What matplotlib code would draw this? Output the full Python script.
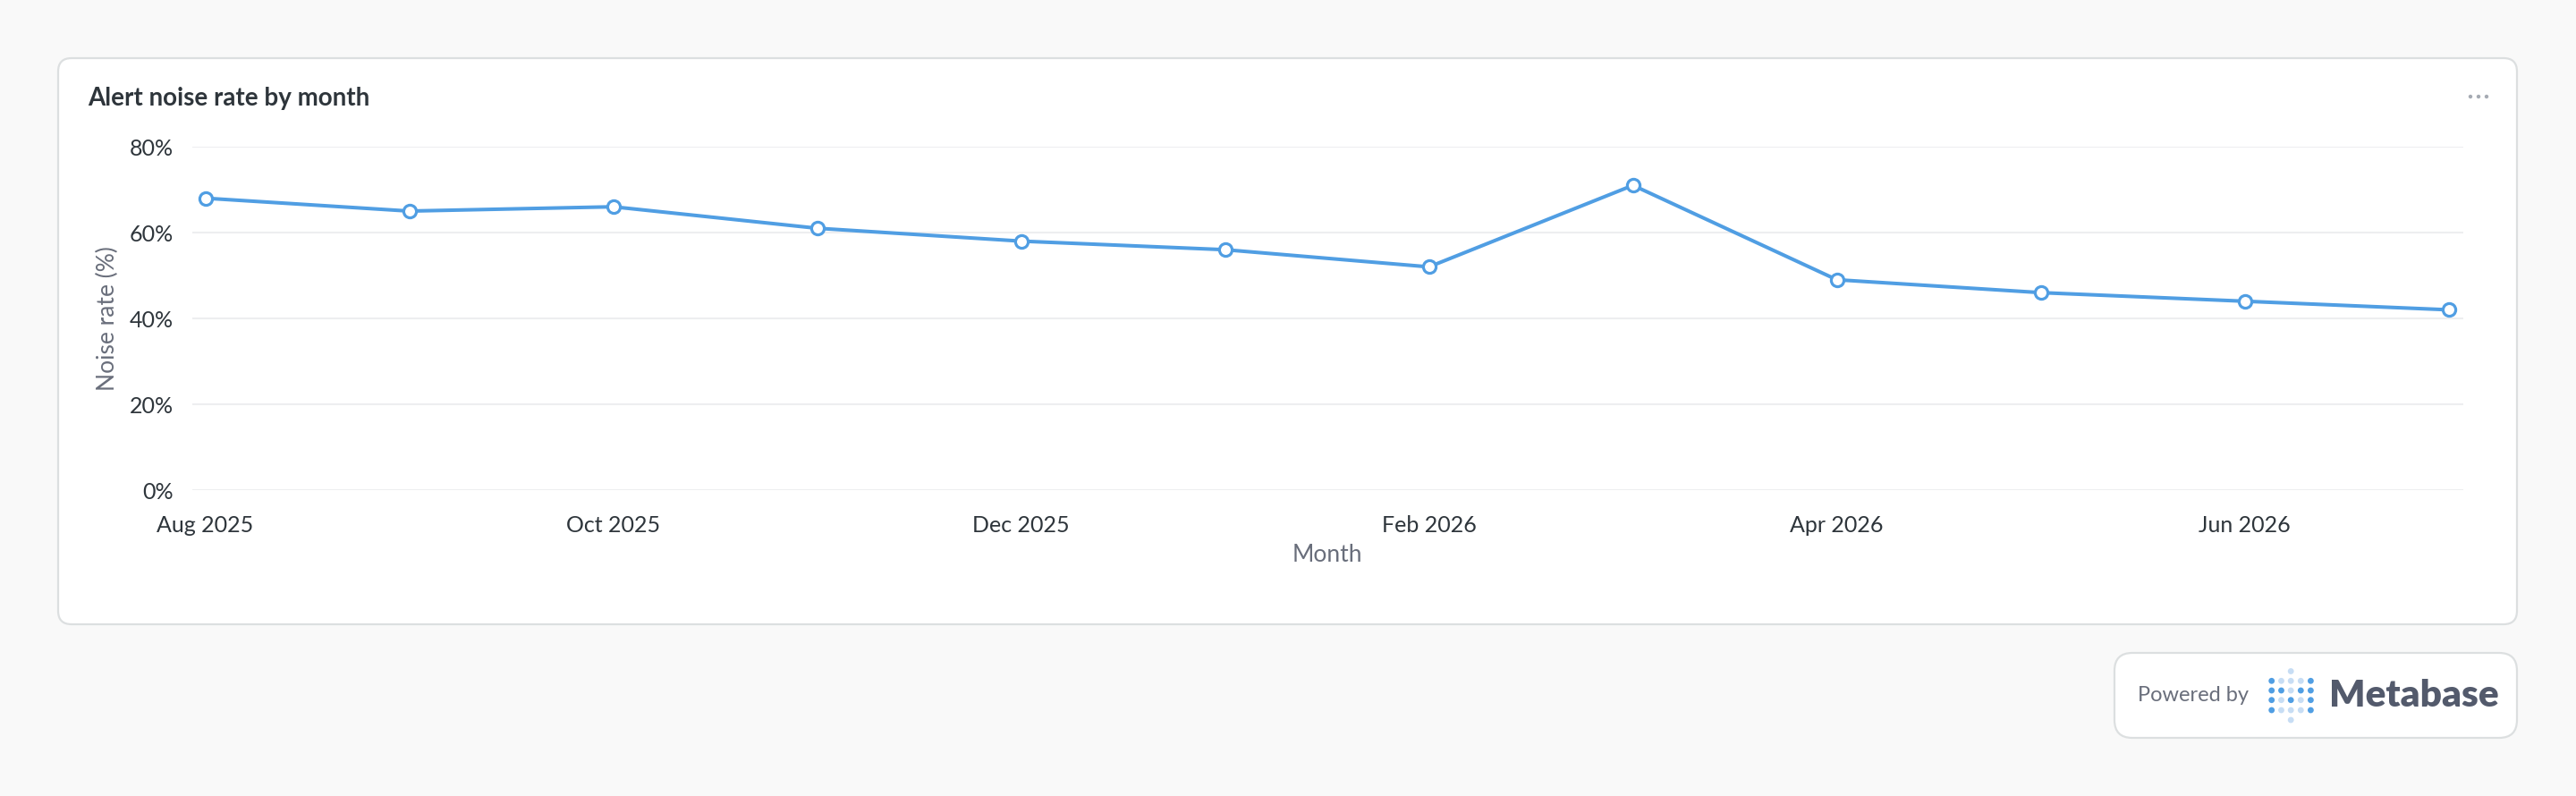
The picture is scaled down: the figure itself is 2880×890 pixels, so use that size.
import matplotlib
matplotlib.use("Agg")
import matplotlib.pyplot as plt
from matplotlib.patches import FancyBboxPatch, Circle
from matplotlib.ticker import FixedLocator, FuncFormatter

# ---- data ----
months = ["Aug 2025", "Sep 2025", "Oct 2025", "Nov 2025", "Dec 2025", "Jan 2026",
          "Feb 2026", "Mar 2026", "Apr 2026", "May 2026", "Jun 2026", "Jul 2026"]
noise_rate = [68, 65, 66, 61, 58, 56, 52, 71, 49, 46, 44, 42]
y_ticks = [0, 20, 40, 60, 80]
title = "Alert noise rate by month"
x_label = "Month"
y_label = "Noise rate (%)"

W, H = 2880, 890
FONT = ["Lato", "DejaVu Sans"]
plt.rcParams["font.family"] = FONT

BLUE = "#509EE3"
LIGHT_BLUE = "#C7DDF4"
TEXT_DARK = "#2E353B"
TEXT_GREY = "#696E7B"
GRID = "#EDEEF0"
BORDER = "#DCDFE0"

fig = plt.figure(figsize=(W / 100, H / 100), dpi=100, facecolor="#F9F9F9")

# background layer in pixel coordinates
bg = fig.add_axes([0, 0, 1, 1], zorder=-1)
bg.set_xlim(0, W)
bg.set_ylim(H, 0)
bg.axis("off")

card = FancyBboxPatch((65, 65), 2814 - 65, 698 - 65,
                      boxstyle="round,pad=0,rounding_size=15",
                      facecolor="white", edgecolor=BORDER, linewidth=1.6)
bg.add_patch(card)
bg.text(98, 110, title, fontsize=20, fontweight="bold", color=TEXT_DARK,
        ha="left", va="center")
for dx in (2762, 2771, 2780):
    bg.add_patch(Circle((dx, 108), 2.2, facecolor="#A6ABB3", edgecolor="none"))

bg.text(1484, 620, x_label, fontsize=19, color=TEXT_GREY, ha="center", va="center")
bg.text(120, 356, y_label, fontsize=19, color=TEXT_GREY, ha="center", va="center",
        rotation=90)

# Powered by badge
badge = FancyBboxPatch((2364, 730), 2814 - 2364, 825 - 730,
                       boxstyle="round,pad=0,rounding_size=20",
                       facecolor="white", edgecolor=BORDER, linewidth=1.6)
bg.add_patch(badge)
bg.text(2390, 778, "Powered by", fontsize=17, color=TEXT_GREY,
        ha="left", va="center")
cols = [2539.7, 2550.5, 2561.2, 2572.3, 2583.4]
rows = [761.3, 772.0, 782.7, 794.0]
pattern = ["DLLLD", "DDLDD", "DLDLD", "DLLLD"]
for r, ry in enumerate(rows):
    for c, cx in enumerate(cols):
        col = BLUE if pattern[r][c] == "D" else LIGHT_BLUE
        bg.add_patch(Circle((cx, ry), 3.4, facecolor=col, edgecolor="none"))
for ry in (750.5, 805):
    bg.add_patch(Circle((cols[2], ry), 3.4, facecolor=LIGHT_BLUE, edgecolor="none"))
bg.text(2604, 778, "Metabase", fontsize=30.5, fontweight="heavy", color="#535A6C",
        ha="left", va="center")

# main chart axes
ax = fig.add_axes([215 / W, 1 - 548 / H, (2754 - 215) / W, (548 - 164) / H], zorder=1)
ax.set_facecolor("none")
x = list(range(len(months)))
ax.plot(x, noise_rate, color=BLUE, linewidth=2.9, marker="o", markersize=10.2,
        markerfacecolor="white", markeredgecolor=BLUE, markeredgewidth=2.3,
        clip_on=False, zorder=3)
ax.set_xlim(-0.064, len(months) - 1 + 0.0715)
ax.set_ylim(0, 80)
ax.yaxis.set_major_locator(FixedLocator(y_ticks))
ax.yaxis.set_major_formatter(FuncFormatter(lambda v, p: f"{int(v)}%"))
ax.set_xticks(x[::2])
ax.set_xticklabels(months[::2])
ax.grid(axis="y", color=GRID, linewidth=1.5, zorder=0)
ax.set_axisbelow(True)
for s in ax.spines.values():
    s.set_visible(False)
ax.tick_params(axis="both", length=0, labelsize=18, labelcolor=TEXT_DARK)
ax.tick_params(axis="y", pad=15)
ax.tick_params(axis="x", pad=20.5)

fig.savefig("out.png", dpi=100, facecolor=fig.get_facecolor())
